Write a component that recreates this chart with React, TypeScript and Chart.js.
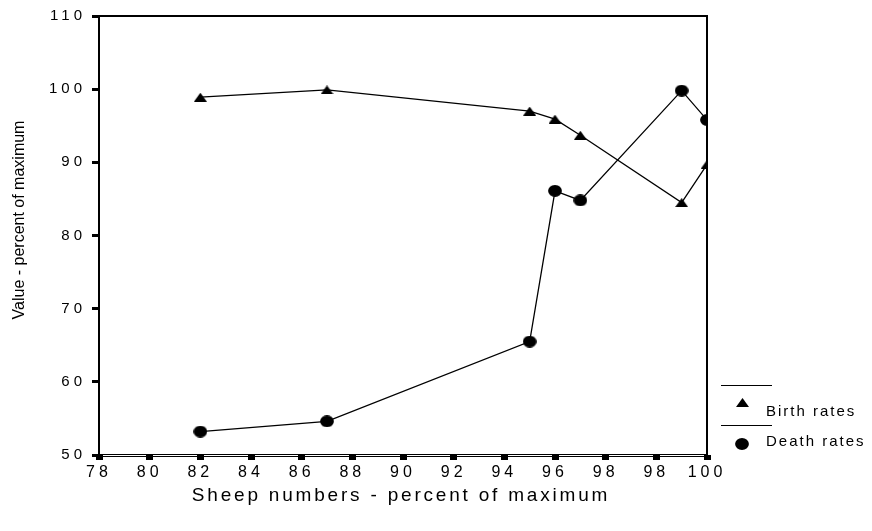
import React, { useEffect, useRef } from "react";
import { Chart, registerables } from "chart.js";

Chart.register(...registerables);

// ---- data ----
const sheepNumbers = [82, 87, 95, 96, 97, 101, 102]; // positions on the x axis as drawn
const birthRates = [98.9, 99.9, 97.0, 95.9, 93.7, 84.5, 89.7];
const deathRates = [53.2, 54.6, 65.5, 86.1, 84.8, 99.8, 95.8];
const xTickLabels = ["78", "80", "82", "84", "86", "88", "90", "92", "94", "96", "98", "98", "100"];
const xMin = 78;
const xMax = 102;
const xStep = 2;
const yMin = 50;
const yMax = 110;
const yStep = 10;
const seriesNames = ["Birth rates", "Death rates"];
const xTitle = "Sheep numbers - percent of maximum";
const yTitle = "Value - percent of maximum";

const FONT = "'Liberation Sans', Arial, Helvetica, sans-serif";

function makeTriangle(): HTMLCanvasElement {
  const c = document.createElement("canvas");
  c.width = 13;
  c.height = 9;
  const g = c.getContext("2d")!;
  g.fillStyle = "#000";
  g.beginPath();
  g.moveTo(0, 9);
  g.lineTo(6.5, 0);
  g.lineTo(13, 9);
  g.closePath();
  g.fill();
  return c;
}

function makeCircle(): HTMLCanvasElement {
  const c = document.createElement("canvas");
  c.width = 14;
  c.height = 12;
  const g = c.getContext("2d")!;
  g.fillStyle = "#000";
  g.beginPath();
  g.ellipse(7, 6, 6.9, 5.9, 0, 0, Math.PI * 2);
  g.fill();
  return c;
}

export default function App() {
  const ref = useRef<HTMLCanvasElement | null>(null);

  useEffect(() => {
    if (!ref.current) return;
    const tri = makeTriangle();
    const circ = makeCircle();
    const markers = [tri, circ];

    const framePlugin = {
      id: "frame",
      beforeDraw(chart: any) {
        (chart.ctx as any).letterSpacing = "4px";
      },
      afterDatasetsDraw(chart: any) {
        const { ctx, chartArea } = chart;
        const { left, right, top, bottom } = chartArea;
        ctx.save();
        (ctx as any).letterSpacing = "0px";
        ctx.strokeStyle = "#000";
        ctx.lineWidth = 2;
        ctx.beginPath();
        ctx.moveTo(left, bottom);
        ctx.lineTo(left, top);
        ctx.lineTo(right, top);
        ctx.lineTo(right, bottom);
        ctx.stroke();
        ctx.lineWidth = 1;
        ctx.beginPath();
        ctx.moveTo(left - 1, bottom - 0.5);
        ctx.lineTo(right + 1, bottom - 0.5);
        ctx.moveTo(left - 1, bottom + 1.5);
        ctx.lineTo(right + 1, bottom + 1.5);
        ctx.stroke();
        ctx.restore();
      },
      afterDraw(chart: any) {
        const { ctx, chartArea } = chart;
        ctx.save();
        ctx.fillStyle = "#000";
        // x title
        (ctx as any).letterSpacing = "2.8px";
        ctx.font = `19px ${FONT}`;
        ctx.textAlign = "center";
        ctx.textBaseline = "middle";
        ctx.fillText(xTitle, (chartArea.left + chartArea.right) / 2 - 2, 496);
        // y title
        (ctx as any).letterSpacing = "0px";
        ctx.save();
        ctx.translate(20, 220);
        ctx.rotate(-Math.PI / 2);
        ctx.font = `16px ${FONT}`;
        ctx.fillText(yTitle, 0, 0);
        ctx.restore();
        // legend
        const lx0 = chartArea.right + 14;
        const lx1 = chartArea.right + 65;
        const rowY = [385.5, 425.5];
        ctx.strokeStyle = "#000";
        ctx.lineWidth = 1;
        (ctx as any).letterSpacing = "2px";
        ctx.font = `15px ${FONT}`;
        ctx.textAlign = "left";
        chart.data.datasets.forEach((ds: any, i: number) => {
          ctx.beginPath();
          ctx.moveTo(lx0, rowY[i]);
          ctx.lineTo(lx1, rowY[i]);
          ctx.stroke();
          const m = markers[i];
          const my = rowY[i] + (i === 0 ? 16.5 : 18);
          ctx.drawImage(m, Math.round(lx0 + 21 - m.width / 2), Math.round(my - m.height / 2));
          ctx.fillText(ds.label, lx0 + 45, rowY[i] + (i === 0 ? 26.5 : 16));
        });
        ctx.restore();
      },
    };

    const chart = new Chart(ref.current, {
      type: "line",
      data: {
        datasets: [
          {
            label: seriesNames[0],
            data: sheepNumbers.map((x, i) => ({ x, y: birthRates[i] })),
            borderColor: "#000",
            backgroundColor: "#000",
            borderWidth: 1.3,
            pointStyle: tri as any,
            pointRadius: 6,
            fill: false,
            tension: 0,
            clip: 0,
          },
          {
            label: seriesNames[1],
            data: sheepNumbers.map((x, i) => ({ x, y: deathRates[i] })),
            borderColor: "#000",
            backgroundColor: "#000",
            borderWidth: 1.3,
            pointStyle: circ as any,
            pointRadius: 6,
            fill: false,
            tension: 0,
            clip: 0,
          },
        ],
      },
      options: {
        animation: false,
        responsive: true,
        maintainAspectRatio: false,
        layout: { padding: { left: 0, right: 165, top: 16, bottom: 0 } },
        plugins: {
          legend: { display: false },
          tooltip: { enabled: false },
          title: { display: false },
        },
        scales: {
          x: {
            type: "linear",
            min: xMin,
            max: xMax,
            ticks: {
              stepSize: xStep,
              autoSkip: false,
              maxRotation: 0,
              color: "#000",
              padding: 3,
              font: { family: FONT, size: 16 },
              callback: (_v: any, i: number) => xTickLabels[i] ?? "",
            },
            grid: {
              drawOnChartArea: false,
              drawTicks: true,
              tickLength: 5,
              tickWidth: 7,
              tickColor: "#000",
            },
            border: { display: false },
            afterFit: (s: any) => {
              s.height = 76;
            },
          },
          y: {
            type: "linear",
            min: yMin,
            max: yMax,
            ticks: {
              stepSize: yStep,
              color: "#000",
              padding: 6,
              font: { family: FONT, size: 15 },
            },
            grid: {
              drawOnChartArea: false,
              drawTicks: true,
              tickLength: 7,
              tickWidth: 3,
              tickColor: "#000",
            },
            border: { display: false },
            afterFit: (s: any) => {
              s.width = 99;
            },
          },
        },
      } as any,
      plugins: [framePlugin],
    });
    return () => chart.destroy();
  }, []);

  return (
    <div style={{ position: "absolute", left: 0, top: 0, width: 872, height: 531, background: "#fff" }}>
      <canvas ref={ref} />
    </div>
  );
}
